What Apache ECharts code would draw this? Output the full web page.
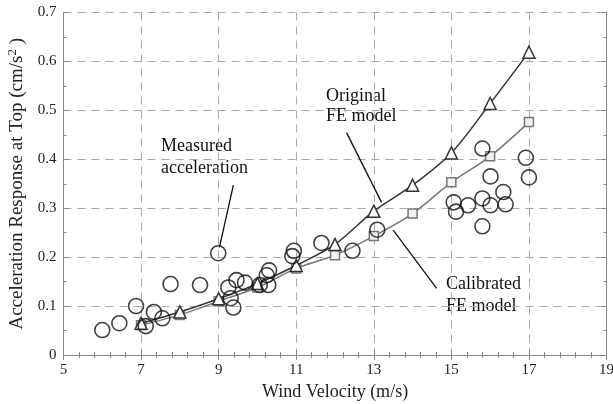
<!DOCTYPE html>
<html>
<head>
<meta charset="utf-8">
<script src="https://cdn.jsdelivr.net/npm/echarts@6/dist/echarts.min.js"></script>
<style>html,body{margin:0;padding:0;background:#fff}#c{width:613px;height:404px}</style>
</head>
<body>
<div id="c"></div>
<script>
// ---- data ----
const modelVelocity = [7, 8, 9, 10, 11, 12, 13, 14, 15, 16, 17];
const originalFE = [0.065, 0.088, 0.115, 0.146, 0.183, 0.226, 0.294, 0.347, 0.413, 0.514, 0.619];
const calibratedFE = [0.061, 0.082, 0.110, 0.138, 0.177, 0.204, 0.243, 0.289, 0.353, 0.406, 0.476];
const measuredVelocity = [6.0, 6.44, 6.87, 7.12, 7.33, 7.55, 7.76, 8.52, 8.99, 9.25, 9.31, 9.38, 9.46, 9.68,
  10.06, 10.24, 10.3, 10.28, 10.9, 10.94, 11.65, 12.45, 13.09, 15.06, 15.12, 15.43, 15.8, 15.8, 16.01,
  16.34, 16.4, 16.01, 17.0, 15.8, 16.92];
const measuredAcc = [0.051, 0.065, 0.100, 0.059, 0.088, 0.075, 0.145, 0.143, 0.208, 0.138, 0.116, 0.097, 0.153, 0.148,
  0.143, 0.163, 0.173, 0.143, 0.202, 0.213, 0.229, 0.213, 0.256, 0.312, 0.293, 0.306, 0.320, 0.263, 0.306,
  0.333, 0.308, 0.365, 0.363, 0.422, 0.403];
const xTicks = [5, 7, 9, 11, 13, 15, 17, 19];
const yTicks = [0, 0.1, 0.2, 0.3, 0.4, 0.5, 0.6, 0.7];
// annotation arrows (data coordinates: from -> to)
const arrowMeasured = [[9.38, 0.347], [9.02, 0.220]];
const arrowOriginal = [[12.30, 0.454], [13.20, 0.312]];
const arrowCalibrated = [[14.62, 0.136], [13.50, 0.255]];

const FONT = "'Liberation Serif', 'Times New Roman', serif";
const chart = echarts.init(document.getElementById('c'));

const axisCommon = {
  type: 'value',
  axisLine: { show: true, lineStyle: { color: '#888', width: 1 } },
  axisTick: { show: true, inside: true, length: 5, lineStyle: { color: '#888' } },
  minorTick: { show: true, length: 3, lineStyle: { color: '#888' } },
};

chart.setOption({
  animation: false,
  backgroundColor: '#fff',
  grid: { left: 63.5, right: 6.5, top: 12.5, bottom: 49, containLabel: false, outerBoundsMode: 'none' },
  xAxis: [
    Object.assign({}, axisCommon, {
      min: xTicks[0], max: xTicks[xTicks.length - 1], interval: 2,
      minorTick: Object.assign({}, axisCommon.minorTick, { splitNumber: 5 }),
      axisLabel: { color: '#222', fontFamily: FONT, fontSize: 15, margin: 8, hideOverlap: false },
      splitLine: { show: true, lineStyle: { color: '#aaa', type: [8, 6], width: 1 } },
      name: 'Wind Velocity (m/s)', nameLocation: 'middle', nameGap: 26,
      nameTextStyle: { color: '#222', fontFamily: FONT, fontSize: 18 }
    }),
    Object.assign({}, axisCommon, {
      position: 'top', min: xTicks[0], max: xTicks[xTicks.length - 1], interval: 2,
      minorTick: Object.assign({}, axisCommon.minorTick, { splitNumber: 5 }),
      axisLabel: { show: false }, splitLine: { show: false }
    })
  ],
  yAxis: [
    Object.assign({}, axisCommon, {
      min: yTicks[0], max: yTicks[yTicks.length - 1], interval: 0.1,
      minorTick: Object.assign({}, axisCommon.minorTick, { splitNumber: 2 }),
      axisLabel: { color: '#222', fontFamily: FONT, fontSize: 15, margin: 7,
        formatter: v => (v === 0 ? '0' : v.toFixed(1)) },
      splitLine: { show: true, lineStyle: { color: '#aaa', type: [8, 6], width: 1 } },
      name: 'Acceleration Response at Top (cm/s{sup|2} )', nameLocation: 'middle', nameGap: 29,
      nameTextStyle: { color: '#222', fontFamily: FONT, fontSize: 19,
        rich: { sup: { fontFamily: FONT, fontSize: 13, verticalAlign: 'top', padding: [0, 0, 9, 0], color: '#222' } } }
    }),
    Object.assign({}, axisCommon, {
      position: 'right', min: yTicks[0], max: yTicks[yTicks.length - 1], interval: 0.1,
      minorTick: Object.assign({}, axisCommon.minorTick, { splitNumber: 2 }),
      axisLabel: { show: false }, splitLine: { show: false }
    })
  ],
  series: [
    {
      name: 'Calibrated FE model', type: 'line', smooth: 0.3,
      data: modelVelocity.map((v, i) => [v, calibratedFE[i]]),
      symbol: 'rect', symbolSize: 9,
      lineStyle: { color: '#777', width: 1.5 },
      itemStyle: { color: '#f2f2f2', borderColor: '#777', borderWidth: 1.5 },
      z: 3
    },
    {
      name: 'Original FE model', type: 'line', smooth: 0.3,
      data: modelVelocity.map((v, i) => [v, originalFE[i]]),
      symbol: 'triangle', symbolSize: 12,
      lineStyle: { color: '#333', width: 1.5 },
      itemStyle: { color: '#fff', borderColor: '#333', borderWidth: 1.5 },
      z: 4
    },
    {
      name: 'Measured acceleration', type: 'scatter',
      data: measuredVelocity.map((v, i) => [v, measuredAcc[i]]),
      symbol: 'circle', symbolSize: 15,
      itemStyle: { color: 'rgba(0,0,0,0)', borderColor: '#111', borderWidth: 1.6 },
      z: 5,
      markLine: {
        silent: true, symbol: ['none', 'arrow'], symbolSize: [0, 8], animation: false,
        label: { show: false },
        lineStyle: { color: '#111', width: 1.3, type: 'solid' },
        data: [arrowMeasured, arrowOriginal, arrowCalibrated].map(a => [{ coord: a[0] }, { coord: a[1] }])
      }
    }
  ],
  graphic: [
    { type: 'text', left: 161, top: 135, style: { text: 'Measured\nacceleration', font: '18px ' + FONT, fill: '#111', lineHeight: 22 } },
    { type: 'text', left: 326, top: 86, style: { text: 'Original\nFE model', font: '18px ' + FONT, fill: '#111', lineHeight: 20.5 } },
    { type: 'text', left: 446, top: 273, style: { text: 'Calibrated\nFE model', font: '18px ' + FONT, fill: '#111', lineHeight: 22.5 } }
  ]
});
</script>
</body>
</html>
